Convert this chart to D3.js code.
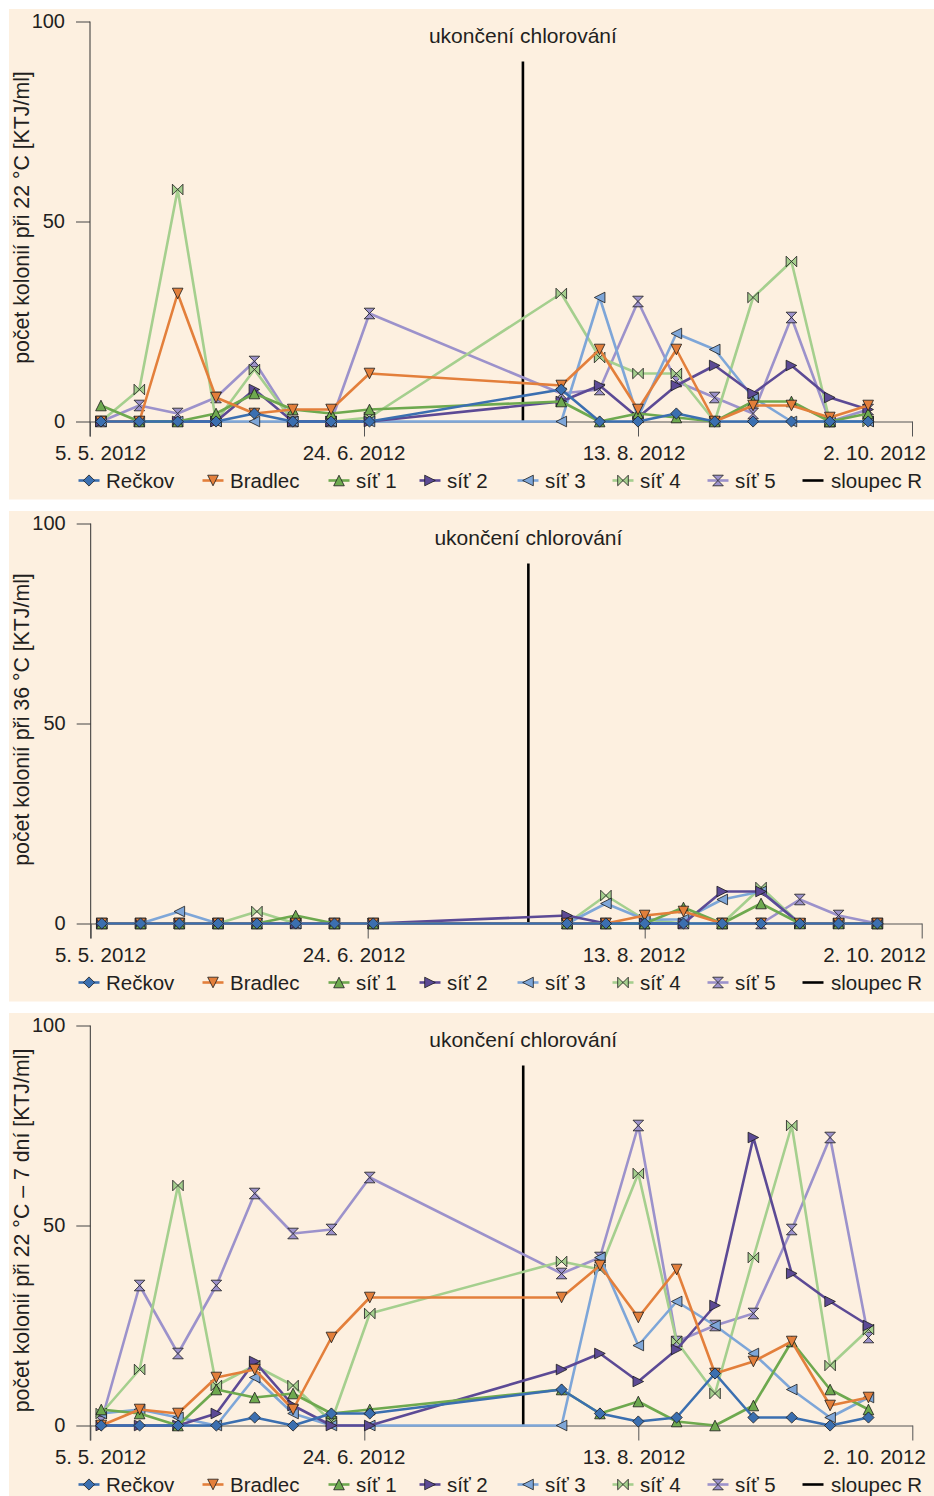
<!DOCTYPE html>
<html><head><meta charset="utf-8">
<script src="https://cdn.jsdelivr.net/npm/d3@7"></script>
<style>
body{margin:0;background:#fff}
svg text{font-family:"Liberation Sans",Arial,Helvetica,sans-serif;fill:#231f20;font-size:20px}
</style>
</head><body><svg id="c" width="934" height="1496"></svg>
<script>
// ---------- data ----------
const sampleDates = ["2012-05-07","2012-05-14","2012-05-21","2012-05-28","2012-06-04","2012-06-11","2012-06-18","2012-06-25",
  "2012-07-30","2012-08-06","2012-08-13","2012-08-20","2012-08-27","2012-09-03","2012-09-10","2012-09-17","2012-09-24"];
const seriesNames = ["Rečkov","Bradlec","síť 1","síť 2","síť 3","síť 4","síť 5"];
const legendNames = ["Rečkov","Bradlec","síť 1","síť 2","síť 3","síť 4","síť 5","sloupec R"];
const tickDates = ["2012-05-05","2012-06-24","2012-08-13","2012-10-02"];
const tickLabels = ["5. 5. 2012","24. 6. 2012","13. 8. 2012","2. 10. 2012"];
const yTicks = [0, 50, 100];
const sloupecRDate = "2012-07-23";
const sloupecRValues = [0, 90];
const annotation = "ukončení chlorování";
const panelTitles = ["počet kolonií při 22 °C [KTJ/ml]","počet kolonií při 36 °C [KTJ/ml]","počet kolonií při 22 °C – 7 dní [KTJ/ml]"];

// panel 1: 22 °C
const t22_Reckov  = [0,0,0,0,2,0,0,0, 8,0,0,2,0,0,0,0,0];
const t22_Bradlec = [0,0,32,6,2,3,3,12, 9,18,3,18,0,4,4,1,4];
const t22_sit1    = [4,0,0,2,7,3,2,3, 5,0,2,1,0,5,5,0,2];
const t22_sit2    = [0,0,0,0,8,0,0,0, 5,9,1,9,14,7,14,6,3];
const t22_sit3    = [0,0,0,0,0,0,0,0, 0,31,1,22,18,6,0,0,0];
const t22_sit4    = [0,8,58,0,13,0,0,1, 32,16,12,12,0,31,40,0,0];
const t22_sit5    = [0,4,2,6,15,0,0,27, 7,8,30,10,6,2,26,0,3];
// panel 2: 36 °C
const t36_Reckov  = [0,0,0,0,0,0,0,0, 0,0,0,0,0,0,0,0,0];
const t36_Bradlec = [0,0,0,0,0,0,0,0, 0,0,2,3,0,0,0,0,0];
const t36_sit1    = [0,0,0,0,0,2,0,0, 0,0,0,4,0,5,0,0,0];
const t36_sit2    = [0,0,0,0,0,0,0,0, 2,0,0,0,8,8,0,0,0];
const t36_sit3    = [0,0,3,0,0,0,0,0, 0,5,1,1,6,8,0,0,0];
const t36_sit4    = [0,0,0,0,3,0,0,0, 0,7,1,0,0,9,0,0,0];
const t36_sit5    = [0,0,0,0,0,0,0,0, 0,0,0,0,0,0,6,2,0];
// panel 3: 22 °C – 7 dní
const t7d_Reckov  = [0,0,0,0,2,0,3,3, 9,3,1,2,13,2,2,0,2];
const t7d_Bradlec = [0,4,3,12,14,4,22,32, 32,40,27,39,13,16,21,5,7];
const t7d_sit1    = [4,3,0,9,7,8,3,4, 9,3,6,1,0,5,21,9,4];
const t7d_sit2    = [0,0,0,3,16,5,0,0, 14,18,11,19,30,72,38,31,25];
const t7d_sit3    = [3,4,2,0,12,3,0,0, 0,42,20,31,25,18,9,2,7];
const t7d_sit4    = [3,14,60,10,15,10,1,28, 41,39,63,21,8,42,75,15,24];
const t7d_sit5    = [1,35,18,35,58,48,49,62, 38,42,75,21,25,28,49,72,22];

// ---------- style ----------
const colors = ["#3b6fb0","#e37f3b","#6ea94f","#5c4a95","#7ea6d8","#a5cf8e","#9c92cb"];
const markerKinds = ["diamond","tdown","tup","tright","tleft","bowtie","hourglass"];
const bg = "#fdf0e0";
const panelTops = [9, 511, 1013];
const panelXRanges = [[90,912],[90.7,921.7],[90.3,912.3]];
const titleDy = [-4, -4, 5];
const labelRange = [90,912];
const labelDx = [10.5,-10,-4,-37.5];
const legendX = [89,213,339,430,528,623,718,813];

const panels = [
  [t22_Reckov,t22_Bradlec,t22_sit1,t22_sit2,t22_sit3,t22_sit4,t22_sit5],
  [t36_Reckov,t36_Bradlec,t36_sit1,t36_sit2,t36_sit3,t36_sit4,t36_sit5],
  [t7d_Reckov,t7d_Bradlec,t7d_sit1,t7d_sit2,t7d_sit3,t7d_sit4,t7d_sit5]
];

function markerPath(kind){
  const r = 5.3;
  switch(kind){
    case "diamond": return `M0,${-r-0.3}L${r+0.3},0L0,${r+0.3}L${-r-0.3},0Z`;
    case "tdown": return `M${-r},${-r}L${r},${-r}L0,${r}Z`;
    case "tup": return `M${-r},${r}L${r},${r}L0,${-r}Z`;
    case "tright": return `M${-r},${-r}L${-r},${r}L${r},0Z`;
    case "tleft": return `M${r},${-r}L${r},${r}L${-r},0Z`;
    case "bowtie": return `M${-r},${-r}L0,0L${-r},${r}ZM${r},${-r}L0,0L${r},${r}Z`;
    case "hourglass": return `M${-r},${-r}L${r},${-r}L0,0ZM${-r},${r}L${r},${r}L0,0Z`;
  }
}

const parse = d3.utcParse("%Y-%m-%d");
const svg = d3.select("#c");

panels.forEach((series, pi) => {
  const top = panelTops[pi];
  const g = svg.append("g");
  g.append("rect").attr("x",9).attr("y",top).attr("width",925).attr("height",490.5).attr("fill",bg);

  const domain = [parse(tickDates[0]), parse(tickDates[tickDates.length-1])];
  const x = d3.scaleUtc().domain(domain).range(panelXRanges[pi]);
  const xl = d3.scaleUtc().domain(domain).range(labelRange);
  const y = d3.scaleLinear().domain([0,100]).range([top+412.5, top+12.5]);
  const x0 = panelXRanges[pi][0];

  // y axis
  const ya = g.append("g").attr("transform",`translate(${x0},0)`)
    .call(d3.axisLeft(y).tickValues(yTicks).tickSize(14).tickPadding(11).tickFormat(d3.format("d")));
  ya.select(".domain").remove();
  ya.selectAll(".tick line").attr("stroke","#444").attr("stroke-width",1);
  ya.selectAll(".tick text").attr("font-size",20).attr("font-family",null).attr("fill","#231f20");
  g.append("line").attr("x1",x0).attr("x2",x0).attr("y1",y(100)).attr("y2",y(0)+15)
    .attr("stroke","#333").attr("stroke-width",1);

  // x axis
  const xa = g.append("g").attr("transform",`translate(0,${y(0)})`)
    .call(d3.axisBottom(x).tickValues(tickDates.map(parse)).tickSize(15).tickSizeOuter(0).tickFormat(""));
  xa.select(".domain").attr("stroke","#555").attr("stroke-width",1);
  xa.selectAll(".tick line").attr("stroke","#555").attr("stroke-width",1);
  g.selectAll(".xlab").data(tickDates).join("text")
    .attr("x",(d,i)=>xl(parse(d))+labelDx[i]).attr("y",y(0)+38.5)
    .attr("text-anchor","middle").style("font-size","20.5px").text((d,i)=>tickLabels[i]);

  // y title
  g.append("text").attr("transform",`translate(29,${(y(0)+y(100))/2+titleDy[pi]}) rotate(-90)`)
    .attr("text-anchor","middle").style("font-size","21.3px").text(panelTitles[pi]);

  // sloupec R
  const xr = x(parse(sloupecRDate));
  g.append("line").attr("x1",xr).attr("x2",xr).attr("y1",y(sloupecRValues[0])).attr("y2",y(sloupecRValues[1]))
    .attr("stroke","#000").attr("stroke-width",2.6);
  g.append("text").attr("x",xr).attr("y",y(100)+21.5).attr("text-anchor","middle")
    .style("font-size","21px").text(annotation);

  // series (last drawn on top: Rečkov)
  const line = d3.line().x(d=>x(d.date)).y(d=>y(d.v));
  for (let s = series.length-1; s >= 0; s--) {
    const pts = series[s].map((v,i)=>({date:parse(sampleDates[i]), v}));
    g.append("path").datum(pts).attr("d",line).attr("fill","none")
      .attr("stroke",colors[s]).attr("stroke-width",2.6).attr("stroke-linejoin","round");
    g.selectAll(null).data(pts).join("path")
      .attr("transform",d=>`translate(${x(d.date)},${y(d.v)})`)
      .attr("d",markerPath(markerKinds[s])).attr("fill",colors[s])
      .attr("stroke","#1a1a1a").attr("stroke-width",0.8).attr("stroke-linejoin","miter");
  }

  // legend
  const ly = top + 471.5;
  legendNames.forEach((name,i)=>{
    const cx = legendX[i];
    const isLine = i === legendNames.length-1;
    g.append("line").attr("x1",cx-10.5).attr("x2",cx+10.5).attr("y1",ly).attr("y2",ly)
      .attr("stroke", isLine ? "#000" : colors[i]).attr("stroke-width",2.6);
    if (!isLine) {
      g.append("path").attr("transform",`translate(${cx},${ly})`).attr("d",markerPath(markerKinds[i]))
        .attr("fill",colors[i]).attr("stroke","#1a1a1a").attr("stroke-width",0.8);
    }
    g.append("text").attr("x",cx+(isLine?18:17)).attr("y",ly+7).style("font-size","20.5px").text(name);
  });
});
</script>
</body></html>
